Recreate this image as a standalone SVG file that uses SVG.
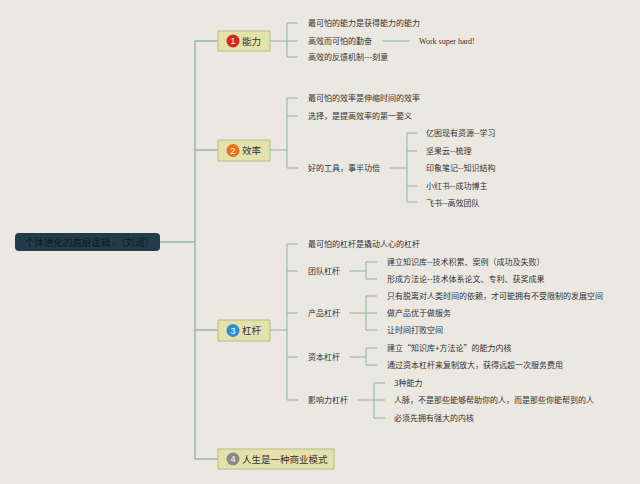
<svg xmlns="http://www.w3.org/2000/svg" width="640" height="484" viewBox="0 0 640 484">
<style>
.bg{fill:#ebe7e1}
.ln{fill:none;stroke:#8fb59c;stroke-width:1}
.sp{fill:none;stroke:#93b8a0;stroke-width:1.4}
.t{font-family:"Noto Sans CJK SC","Noto Sans",sans-serif;font-size:8px;fill:#333}
.w{font-family:"Liberation Serif",serif;font-size:8px;fill:#333}
.nb{fill:#e4e1ab;stroke:#b3bd8a;stroke-width:1}
.nt{font-family:"Noto Sans CJK SC","Noto Sans",sans-serif;font-size:9.5px;fill:#333}
.num{font-family:"Liberation Sans",sans-serif;font-size:9px;fill:#fff;text-anchor:middle}
</style>
<rect class="bg" x="0" y="0" width="640" height="484"/>
<g id="connectors">
<path class="sp" d="M160,242H195M218,41H195V459H218M195,150H218M195,330H218"/>
<!-- 能力 -->
<path class="ln" d="M270,41H287M298,23H287V57H298M287,41H298M382,41H410"/>
<!-- 效率 -->
<path class="ln" d="M270,150H287M298,98H287V168H298M287,116H298M389,168H407M417,133H407V202H417M407,151H417M407,186H417"/>
<!-- 杠杆 -->
<path class="ln" d="M270,330H287M298,244H287V400H298M287,271H298M287,313H298M287,357H298"/>
<path class="ln" d="M349,271H366M377,262H366V279H377"/>
<path class="ln" d="M349,313H377M377,296H366V330H377"/>
<path class="ln" d="M349,357H366M377,348H366V365H377"/>
<path class="ln" d="M357,400H385M385,383H374V418H385"/>
</g>
<g id="root">
<rect x="15" y="233" width="145" height="18" rx="4" fill="#223d48"/>
<text class="t" x="25" y="245.5" style="font-size:9.5px;fill:#0d1a1f">个体进化的底层逻辑 -（刘润）</text>
</g>
<g id="n1">
<rect class="nb" x="218" y="31" width="52" height="20"/>
<circle cx="233" cy="41" r="6.5" fill="#d42a1a"/>
<text class="num" x="233" y="44.3">1</text>
<text class="nt" x="242" y="44.5">能力</text>
</g>
<g id="n1c">
<text class="t" x="308" y="26">最可怕的能力是获得能力的能力</text>
<text class="t" x="308" y="44">高效而可怕的勤奋</text>
<text class="w" x="419" y="44">Work super hard!</text>
<text class="t" x="308" y="60">高效的反馈机制---刻意</text>
</g>
<g id="n2">
<rect class="nb" x="218" y="140" width="52" height="21"/>
<circle cx="233" cy="150.5" r="6.5" fill="#e8731c"/>
<text class="num" x="233" y="153.8">2</text>
<text class="nt" x="242" y="154">效率</text>
</g>
<g id="n2c">
<text class="t" x="308" y="101">最可怕的效率是伸缩时间的效率</text>
<text class="t" x="308" y="119">选择，是提高效率的第一要义</text>
<text class="t" x="308" y="171">好的工具，事半功倍</text>
<text class="t" x="426" y="136">亿图现有资源--学习</text>
<text class="t" x="426" y="154">坚果云--梳理</text>
<text class="t" x="426" y="171">印象笔记--知识结构</text>
<text class="t" x="426" y="189">小红书--成功博主</text>
<text class="t" x="426" y="206">飞书--高效团队</text>
</g>
<g id="n3">
<rect class="nb" x="218" y="320" width="52" height="21"/>
<circle cx="233" cy="330.5" r="6.5" fill="#2a8fd6"/>
<text class="num" x="233" y="333.8">3</text>
<text class="nt" x="242" y="334">杠杆</text>
</g>
<g id="n3c">
<text class="t" x="308" y="247">最可怕的杠杆是撬动人心的杠杆</text>
<text class="t" x="308" y="274">团队杠杆</text>
<text class="t" x="308" y="316">产品杠杆</text>
<text class="t" x="308" y="360">资本杠杆</text>
<text class="t" x="308" y="403">影响力杠杆</text>
<text class="t" x="387" y="265">建立知识库--技术积累、案例（成功及失败）</text>
<text class="t" x="387" y="282">形成方法论--技术体系论文、专利、获奖成果</text>
<text class="t" x="387" y="299">只有脱离对人类时间的依赖，才可能拥有不受限制的发展空间</text>
<text class="t" x="387" y="316">做产品优于做服务</text>
<text class="t" x="387" y="333">让时间打败空间</text>
<text class="t" x="387" y="351">建立“知识库+方法论”的能力内核</text>
<text class="t" x="387" y="368">通过资本杠杆来复制放大，获得远超一次服务费用</text>
<text class="t" x="394" y="386">3种能力</text>
<text class="t" x="394" y="403">人脉，不是那些能够帮助你的人，而是那些你能帮到的人</text>
<text class="t" x="394" y="421">必须先拥有强大的内核</text>
</g>
<g id="n4">
<rect class="nb" x="218" y="449" width="116" height="20"/>
<circle cx="233" cy="459" r="6.5" fill="#8a8a8a"/>
<text class="num" x="233" y="462.3">4</text>
<text class="nt" x="242" y="462.5">人生是一种商业模式</text>
</g>
</svg>
